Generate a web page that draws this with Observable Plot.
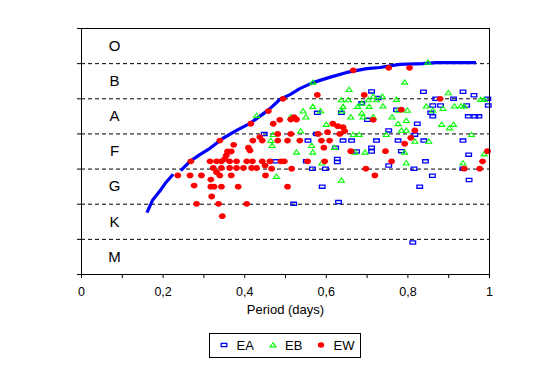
<!DOCTYPE html>
<html><head><meta charset="utf-8">
<script src="https://cdn.jsdelivr.net/npm/d3@7"></script>
<script src="https://cdn.jsdelivr.net/npm/@observablehq/plot@0.6"></script>
<style>
body{margin:0;background:#fff;font-family:"Liberation Sans",Arial,sans-serif;}
#wrap{position:relative;width:542px;height:368px;overflow:hidden;}
#legend{position:absolute;left:209px;top:333px;width:152px;height:25px;box-sizing:border-box;border:1px solid #000;font-size:13px;}
#legend .sym{position:absolute;top:6px;width:10px;height:10px;}
#legend .lab{position:absolute;top:5px;line-height:13px;color:#000;}
</style></head><body><div id="wrap"><div id="chart"></div><div id="legend"></div></div>
<script>
// spectral bands, bottom to top
const bands = ["M","K","G","F","A","B","O"];
const xTicks = [0,0.1,0.2,0.3,0.4,0.5,0.6,0.7,0.8,0.9,1];
const xTickLabels = ["0","","0,2","","0,4","","0,6","","0,8","","1"];
const bandEdges = [0,1,2,3,4,5,6,7];
const dashedEdges = [1,2,3,4,5,6];

// blue envelope curve
const curvePeriod = [0.162,0.174,0.193,0.207,0.222,0.246,0.266,0.290,0.315,0.346,0.380,0.413,0.437,0.462,0.486,0.511,0.535,0.567,0.608,0.650,0.699,0.731,0.780,0.836,0.870,0.963];
const curveClass  = [1.80,2.11,2.39,2.62,2.82,2.99,3.22,3.41,3.59,3.87,4.10,4.30,4.50,4.72,4.98,5.12,5.29,5.46,5.61,5.75,5.86,5.89,5.98,6.00,6.03,6.03];
const curveSegment = [1,1,1,1,1,2,2,2,2,2,2,2,2,2,2,2,2,2,2,2,2,2,2,2,2,2];

// [period (days), spectral position]
const ea = [
[0.448,4.00],
[0.711,5.21],[0.727,5.02],[0.687,4.87],[0.578,4.60],[0.637,4.60],[0.701,4.40],[0.576,4.00],[0.555,3.81],[0.641,3.81],[0.662,3.81],[0.723,3.81],
[0.838,5.20],[0.935,5.20],[0.962,5.10],[0.868,5.00],[0.912,5.00],[0.996,5.00],[0.997,4.81],[0.861,4.81],[0.880,4.81],[0.944,4.81],[0.772,4.69],[0.856,4.60],[0.861,4.50],[0.948,4.50],[0.964,4.50],[0.974,4.50],[0.823,4.29],[0.753,4.10],[0.817,3.98],[0.776,3.81],[0.839,3.81],[0.935,3.81],
[0.623,3.61],[0.674,3.50],[0.711,3.61],[0.711,3.50],[0.627,3.29],[0.627,3.20],[0.476,3.22],[0.551,3.22],[0.493,3.22],[0.566,3.01],[0.598,3.01],[0.590,2.50],[0.520,2.01],[0.630,2.06],
[0.784,3.51],[0.949,3.41],[0.843,3.22],[0.753,3.10],[0.815,3.01],[0.935,3.01],[0.860,2.81],[0.950,2.69],[0.829,2.50],[0.812,0.91]
];
const eb = [
[0.429,4.52],[0.467,3.67],[0.464,3.81],
[0.567,5.47],[0.656,5.26],[0.637,4.97],[0.654,4.97],[0.687,4.87],[0.703,4.97],[0.715,5.07],[0.723,4.97],[0.705,4.78],[0.677,4.78],[0.641,4.78],[0.567,4.78],[0.586,4.65],[0.543,4.65],[0.638,4.65],[0.687,4.59],[0.660,4.48],[0.550,4.48],[0.513,4.48],[0.690,4.48],[0.715,4.48],[0.600,4.27],[0.537,4.08],[0.666,3.98],[0.681,3.98],[0.470,3.98],
[0.849,6.04],[0.792,5.47],[0.899,5.17],[0.737,5.07],[0.772,4.98],[0.978,4.98],[0.987,4.98],[0.739,4.79],[0.845,4.79],[0.914,4.79],[0.930,4.79],[0.938,4.79],[0.799,4.67],[0.776,4.67],[0.861,4.67],[0.886,4.72],[0.761,4.48],[0.796,4.38],[0.776,4.29],[0.883,4.27],[0.912,4.27],[0.902,4.17],[0.784,4.10],[0.796,4.10],[0.747,3.98],[0.956,3.98],[0.851,3.79],[0.817,3.79],
[0.564,3.67],[0.620,3.61],[0.527,3.48],[0.567,3.48],[0.695,3.48],[0.670,3.48],[0.589,3.17],[0.478,2.79],[0.637,2.68],
[0.792,3.48],[0.796,3.17],[0.935,3.17],[0.987,3.43]
];
const ew = [
[0.458,4.65],[0.415,4.29],[0.339,3.81],[0.437,3.91],[0.443,3.81],[0.420,3.81],[0.373,3.69],[0.409,3.61],[0.413,3.53],[0.358,3.50],[0.367,3.50],[0.355,3.39],[0.351,3.29],
[0.268,3.22],[0.315,3.22],[0.331,3.22],[0.343,3.22],[0.363,3.22],[0.380,3.22],[0.405,3.22],[0.419,3.22],[0.443,3.22],[0.462,3.22],[0.489,3.22],[0.497,3.22],[0.554,3.22],[0.596,3.22],
[0.450,3.10],
[0.323,3.03],[0.343,3.03],[0.363,3.03],[0.380,3.03],[0.397,3.03],[0.417,3.03],[0.429,3.03],[0.466,3.01],[0.515,3.01],[0.697,3.01],
[0.331,2.91],
[0.236,2.82],[0.266,2.82],[0.294,2.82],[0.339,2.82],[0.367,2.82],[0.451,2.82],[0.719,2.82],
[0.317,2.70],
[0.276,2.53],[0.317,2.50],[0.325,2.50],[0.343,2.50],[0.384,2.50],[0.505,2.50],
[0.319,2.22],
[0.282,2.01],[0.336,2.01],[0.405,2.01],
[0.345,1.66],
[0.666,5.81],[0.578,5.11],[0.693,5.11],[0.494,5.00],[0.521,4.48],[0.513,4.41],[0.527,4.41],[0.486,4.40],[0.470,4.29],[0.715,4.40],[0.616,4.29],[0.628,4.22],[0.641,4.19],[0.645,4.08],[0.633,4.00],[0.580,4.00],[0.603,4.05],[0.481,4.00],[0.513,4.00],
[0.481,3.81],[0.505,3.81],[0.535,3.81],[0.588,3.81],[0.608,3.81],
[0.753,5.88],[0.804,5.88],[0.784,4.69],[0.879,5.00],[0.817,4.10],[0.807,3.89],[0.792,3.72],
[0.594,3.61],[0.660,3.51],
[0.745,3.51],[0.760,3.22],[0.938,3.01],[0.976,3.01],[0.983,3.22],[0.995,3.51]
];

const seriesNames = ["EA","EB","EW"];
const seriesColors = ["#0000ff","#00ff00","#ff0000"];

// marker shapes
const rectSym = {draw(c){c.moveTo(-2.8,-1.6);c.lineTo(2.8,-1.6);c.lineTo(2.8,1.6);c.lineTo(-2.8,1.6);c.closePath();}};
const triSym = {draw(c){c.moveTo(0,-2.4);c.lineTo(3,1.9);c.lineTo(-3,1.9);c.closePath();}};
const ellSym = {draw(c){const rx=3.4,ry=2.9,k=0.5523;
  c.moveTo(rx,0);
  c.bezierCurveTo(rx,ry*k,rx*k,ry,0,ry);
  c.bezierCurveTo(-rx*k,ry,-rx,ry*k,-rx,0);
  c.bezierCurveTo(-rx,-ry*k,-rx*k,-ry,0,-ry);
  c.bezierCurveTo(rx*k,-ry,rx,-ry*k,rx,0);
  c.closePath();}};

const curve = curvePeriod.map((p,i)=>({p, s: curveClass[i], seg: curveSegment[i]}));
const font = "'Liberation Sans', Arial, sans-serif";

const chart = Plot.plot({
  width: 542, height: 322,
  marginLeft: 81, marginRight: 53, marginTop: 28, marginBottom: 48,
  style: {fontFamily: font, fontSize: "12px", background: "#fff", color: "#000"},
  x: {domain: [0,1]},
  y: {domain: [0,7]},
  marks: [
    Plot.ruleY(dashedEdges, {stroke: "#000", strokeWidth: 1, strokeDasharray: "4,3"}),
    Plot.line(curve, {x: "p", y: "s", z: "seg", stroke: "#0000ff", strokeWidth: 3.2, strokeLinejoin: "miter", strokeLinecap: "square"}),
    Plot.dot(ea, {x: d=>d[0], y: d=>d[1], symbol: rectSym, r: 3, stroke: seriesColors[0], strokeWidth: 1.3, fill: "none"}),
    Plot.dot(eb, {x: d=>d[0], y: d=>d[1], symbol: triSym, r: 3, stroke: seriesColors[1], strokeWidth: 1.1, fill: "none"}),
    Plot.dot(ew, {x: d=>d[0], y: d=>d[1], symbol: ellSym, r: 3, fill: seriesColors[2], stroke: "none"}),
    Plot.frame({stroke: "#000", strokeWidth: 1}),
    Plot.axisY({ticks: bandEdges, tickSize: 4, tickFormat: () => "", label: null, strokeWidth: 1}),
    Plot.axisX({ticks: xTicks, tickSize: 4, tickPadding: 9, tickFormat: (d,i) => xTickLabels[i], label: null, fontSize: 12.5}),
    Plot.text(["Period (days)"], {frameAnchor: "bottom", dy: 39, fontSize: 13, fill: "#000"}),
    Plot.text(bands, {y: (d,i) => i + 0.5, frameAnchor: "left", dx: 33, textAnchor: "middle", fontSize: 15, fill: "#000"})
  ]
});
document.getElementById("chart").appendChild(chart);

// legend
const legend = document.getElementById("legend");
const symLeft = [9, 58, 105.5];
const labLeft = [26.5, 75, 123.5];
const symPaths = [
  `<rect x="2.2" y="3.4" width="5.6" height="3.2" fill="none" stroke="${seriesColors[0]}" stroke-width="1.3"/>`,
  `<path d="M5,2.6L8,6.9L2,6.9Z" fill="none" stroke="${seriesColors[1]}" stroke-width="1.1"/>`,
  `<ellipse cx="5" cy="5" rx="3.2" ry="2.8" fill="${seriesColors[2]}"/>`
];
seriesNames.forEach((n,i)=>{
  legend.insertAdjacentHTML("beforeend",
    `<svg class="sym" style="left:${symLeft[i]}px" viewBox="0 0 10 10">${symPaths[i]}</svg><span class="lab" style="left:${labLeft[i]}px">${n}</span>`);
});
</script></body></html>
